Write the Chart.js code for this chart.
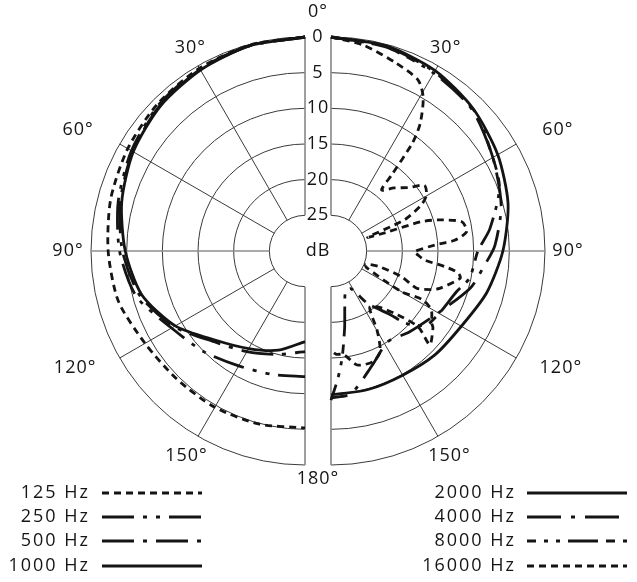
<!DOCTYPE html>
<html>
<head>
<meta charset="utf-8">
<script src="https://cdn.jsdelivr.net/npm/chart.js@4.4.1/dist/chart.umd.min.js"></script>
<style>
  html, body { margin: 0; padding: 0; background: #fff; }
  canvas { display: block; }
</style>
</head>
<body>
<canvas id="polar" width="637" height="582"></canvas>
<script>
// polar response, angle in degrees from front, level in dB below on-axis
const angleTicks = [0, 30, 60, 90, 120, 150, 180]
const dbTicks    = [0, 5, 10, 15, 20, 25]

// left half: low frequencies
const anglesLow = [0, 15, 30, 45, 60, 75, 90, 105, 120, 135, 150, 165, 180]
const db125  = [0, 0.1, 0.4, 0.8, 1.3, 1.8, 2.4, 2.9, 4.1, 4.6, 4.7, 4.9, 5.2]
const db250  = [0, 0.2, 0.5, 1.0, 1.9, 2.9, 4.0, 5.5, 8.4, 10.0, 11.4, 12.1, 12.4]
const db500  = [0, 0.2, 0.6, 1.2, 2.1, 3.2, 4.4, 6.0, 8.8, 12.0, 13.7, 15.0, 15.9]
const db1000 = [0, 0.2, 0.7, 1.3, 2.2, 3.4, 4.8, 6.3, 9.0, 12.3, 14.2, 15.6, 17.3]

// right half: high frequencies
const db2000 = [0, 0.2, 0.8, 1.8, 3.0, 4.3, 5.9, 7.4, 8.9, 9.4, 9.9, 9.9, 9.8]

const angles4000 = [0, 15, 30, 45, 60, 75, 88, 96, 105, 119, 136, 148, 160, 172, 180]
const db4000     = [0, 0.3, 1.0, 2.0, 3.8, 5.3, 7.0, 8.5, 9.8, 12.5, 14.2, 15.0, 13.0, 9.8, 9.4]

const angles8000 = [0, 15, 30, 46, 55, 69, 82, 90, 101, 108, 120, 128, 134, 137, 145, 152, 160, 166, 170, 174, 177, 180]
const db8000     = [0, 0.4, 1.2, 1.9, 3.2, 4.7, 7.5, 9.4, 10.2, 11.5, 12.5, 13.1, 15.4, 17.8, 21.0, 24.0, 24.0, 22.0, 19.0, 15.0, 12.0, 9.1]

const angles16000 = [0, 9, 19, 27, 31, 35, 37, 38.6, 39.7, 45, 50.6, 54.9, 59.7, 63, 67, 69.5, 71.4, 72, 73.8, 77.4,
                     81.9, 85, 86.7, 90.5, 92.6, 95.5, 97.8, 99.8, 102, 109, 111, 113.5, 110, 108, 111, 115, 120, 118, 120.4, 125.7,
                     127, 133.5, 131, 134, 140, 145.6, 150, 154, 159, 167, 173, 177, 180]
const db16000     = [0, 0.8, 2.1, 3.1, 4.9, 8.2, 11.0, 16.4, 18.9, 17.5, 16.0, 14.0, 14.5, 15.8, 18.8, 24.5, 21.6, 16.7, 14.4, 11.2,
                     10.8, 12.6, 15.4, 18.3, 17.8, 16.8, 13.9, 11.9, 11.5, 13.9, 14.9, 16.9, 19.5, 23.0, 24.8, 24.5, 18.6, 15.5, 13.7, 12.6,
                     12.1, 10.9, 13.8, 17.2, 19.8, 20.4, 17.0, 14.3, 13.4, 13.6, 15.4, 15.5, 16.0]

const RANGE = 30      // dB at the centre of each half
const GAP   = 1.82    // half width of the blank strip, in dB units
const K     = 214 / RANGE   // pixels per dB unit

function toXY(side, angles, levels) {
    return angles.map((a, i) => {
        const rho = RANGE - levels[i]
        const t = a * Math.PI / 180
        return { x: side * (GAP + rho * Math.sin(t)), y: rho * Math.cos(t) }
    })
}

function line(label, side, angles, levels, dash) {
    return {
        label: label,
        data: toXY(side, angles, levels),
        showLine: true,
        borderColor: '#141414',
        borderWidth: 2.8,
        borderDash: dash,
        borderCapStyle: 'butt',
        pointRadius: 0,
        tension: 0.25,
        fill: false
    }
}

const FONT = '18px "Open Sans", "Noto Sans", sans-serif'

const polarGrid = {
    id: 'polarGrid',
    beforeDatasetsDraw(chart) {
        const { ctx, scales: { x, y } } = chart
        const u = x.getPixelForValue(1) - x.getPixelForValue(0)
        const cy = y.getPixelForValue(0)
        const rIn = (RANGE - dbTicks[dbTicks.length - 1]) * u
        const rOut = RANGE * u
        ctx.save()
        for (const side of [-1, 1]) {
            const cx = x.getPixelForValue(side * GAP)
            ctx.strokeStyle = '#3a3a3a'
            ctx.lineWidth = 1
            dbTicks.forEach(d => {
                ctx.beginPath()
                ctx.arc(cx, cy, (RANGE - d) * u, -Math.PI / 2, Math.PI / 2, side < 0)
                ctx.stroke()
            })
            angleTicks.forEach(a => {
                const t = a * Math.PI / 180
                const s = Math.sin(t), c = Math.cos(t)
                const axis = a % 90 === 0
                ctx.strokeStyle = axis ? '#8e8e8e' : '#3a3a3a'
                ctx.lineWidth = axis ? 1.7 : 1
                ctx.beginPath()
                ctx.moveTo(cx + side * rIn * s, cy - rIn * c)
                ctx.lineTo(cx + side * rOut * s, cy - rOut * c)
                ctx.stroke()
            })
        }

        ctx.fillStyle = '#151515'
        ctx.font = FONT
        ctx.letterSpacing = '1px'
        ctx.textAlign = 'center'
        ctx.textBaseline = 'middle'
        const mid = x.getPixelForValue(0)
        dbTicks.forEach(d => ctx.fillText(String(d), mid, y.getPixelForValue(RANGE - d)))
        ctx.fillText('dB', mid, cy)

        // angle labels: [radius px, direction]
        ctx.fillText('0°', mid, y.getPixelForValue(RANGE) - 25)
        ctx.fillText('180°', mid, y.getPixelForValue(-RANGE) + 14)
        const labelAt = { 30: [233, 29.5], 60: [257, 62], 90: [237, 90], 120: [258, 117], 150: [237, 150] }
        for (const side of [-1, 1]) {
            const cx = x.getPixelForValue(side * GAP)
            angleTicks.filter(a => a > 0 && a < 180).forEach(a => {
                const [R, dir] = labelAt[a]
                const t = dir * Math.PI / 180
                ctx.fillText(a + '°', cx + side * R * Math.sin(t), cy - R * Math.cos(t))
            })
        }
        ctx.restore()
    },
    afterDraw(chart) {
        const { ctx } = chart
        ctx.save()
        ctx.font = FONT
        ctx.letterSpacing = '2px'
        ctx.fillStyle = '#151515'
        ctx.textAlign = 'right'
        ctx.textBaseline = 'middle'
        const rows = [493, 517, 541, 566]
        const cols = [{ text: 90, x1: 102, x2: 202 }, { text: 516, x1: 527, x2: 627 }]
        chart.data.datasets.forEach((ds, i) => {
            const col = cols[Math.floor(i / 4)]
            const yy = rows[i % 4]
            ctx.fillText(ds.label, col.text, yy)
            ctx.strokeStyle = ds.borderColor
            ctx.lineWidth = ds.borderWidth
            ctx.lineCap = 'butt'
            ctx.setLineDash(ds.borderDash)
            ctx.beginPath()
            ctx.moveTo(col.x1, yy)
            ctx.lineTo(col.x2, yy)
            ctx.stroke()
        })
        ctx.restore()
    }
}

new Chart(document.getElementById('polar'), {
    type: 'scatter',
    data: {
        datasets: [
            line('125 Hz',   -1, anglesLow, db125,  [7, 5]),
            line('250 Hz',   -1, anglesLow, db250,  [32, 9, 4, 9, 4, 9]),
            line('500 Hz',   -1, anglesLow, db500,  [32, 9, 4, 9]),
            line('1000 Hz',  -1, anglesLow, db1000, []),
            line('2000 Hz',   1, anglesLow, db2000, []),
            line('4000 Hz',   1, angles4000, db4000, [34, 10, 4, 10]),
            line('8000 Hz',   1, angles8000, db8000, [9, 8, 4, 8, 4, 8, 30, 8]),
            line('16000 Hz',  1, angles16000, db16000, [7, 5])
        ]
    },
    options: {
        responsive: false,
        animation: false,
        layout: { padding: 0 },
        plugins: { legend: { display: false }, tooltip: { enabled: false } },
        scales: {
            x: { type: 'linear', display: false, min: -318 / K, max: 319 / K },
            y: { type: 'linear', display: false, min: -331 / K, max: 251 / K }
        }
    },
    plugins: [polarGrid]
})
</script>
</body>
</html>
